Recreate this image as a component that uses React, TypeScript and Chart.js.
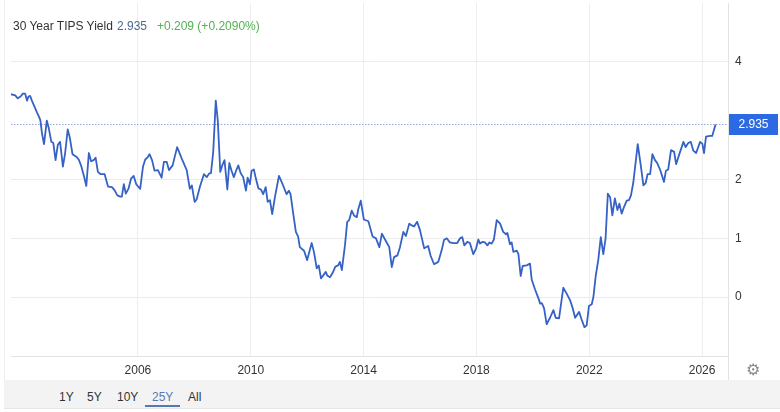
import React, { useEffect, useRef } from "react";
import { Chart, registerables } from "chart.js";
Chart.register(...registerables);

// ---- data (decimal years, real yield %) ----
const years2001to2006 = [2001.50,2001.65,2001.74,2001.84,2001.92,2002.00,2002.07,2002.12,2002.18,2002.24,2002.34,2002.42,2002.49,2002.54,2002.60,2002.67,2002.77,2002.84,2002.93,2003.00,2003.08,2003.16,2003.24,2003.34,2003.42,2003.51,2003.59,2003.68,2003.84,2003.91,2003.99,2004.09,2004.17,2004.26,2004.34,2004.43,2004.50,2004.58,2004.68,2004.82,2004.94,2005.08,2005.17,2005.27,2005.37,2005.43,2005.50,2005.57,2005.67,2005.76,2005.85,2005.94,2006.08,2006.18,2006.26,2006.35,2006.41,2006.50,2006.59,2006.71];
const yields2001to2006 = [3.45,3.43,3.38,3.41,3.46,3.46,3.34,3.41,3.42,3.34,3.23,3.14,3.07,3.01,2.78,2.60,3.00,2.87,2.64,2.62,2.33,2.59,2.64,2.22,2.45,2.85,2.70,2.43,2.38,2.33,2.23,2.05,1.89,2.45,2.31,2.33,2.37,2.13,2.09,2.09,1.88,1.87,1.82,1.73,1.71,1.71,1.92,1.76,1.85,2.02,2.06,1.92,1.84,2.22,2.34,2.38,2.43,2.33,2.15,2.16];

const years2006to2011 = [2006.84,2006.92,2007.02,2007.10,2007.23,2007.39,2007.55,2007.73,2007.84,2007.91,2008.01,2008.08,2008.20,2008.34,2008.44,2008.52,2008.59,2008.67,2008.76,2008.83,2008.92,2008.99,2009.07,2009.17,2009.24,2009.32,2009.40,2009.48,2009.56,2009.64,2009.73,2009.83,2009.89,2009.97,2010.03,2010.11,2010.18,2010.27,2010.36,2010.44,2010.53,2010.60,2010.68,2010.76,2010.86,2011.00,2011.13,2011.27,2011.35,2011.41,2011.53,2011.60];
const yields2006to2011 = [2.03,2.30,2.30,2.16,2.24,2.55,2.36,2.16,1.84,1.90,1.62,1.66,1.88,2.09,2.04,2.10,2.11,2.47,3.34,3.01,2.13,2.24,2.33,1.83,2.28,2.15,2.04,2.15,2.24,2.11,2.04,1.81,2.03,1.92,2.15,2.17,2.02,1.85,1.83,1.75,1.87,1.62,1.65,1.41,1.71,2.06,1.92,1.75,1.81,1.75,1.34,1.11];

const years2011to2016 = [2011.68,2011.74,2011.89,2012.00,2012.16,2012.24,2012.34,2012.41,2012.49,2012.57,2012.66,2012.71,2012.81,2012.90,2013.00,2013.10,2013.16,2013.23,2013.34,2013.42,2013.49,2013.58,2013.66,2013.76,2013.81,2013.90,2014.01,2014.17,2014.32,2014.44,2014.56,2014.65,2014.76,2014.91,2015.00,2015.08,2015.20,2015.29,2015.41,2015.50,2015.62,2015.71,2015.79,2015.90,2016.00,2016.15,2016.29,2016.38,2016.50];
const yields2011to2016 = [1.03,0.85,0.79,0.63,0.92,0.77,0.49,0.54,0.32,0.37,0.43,0.37,0.34,0.41,0.52,0.54,0.60,0.46,0.88,1.28,1.31,1.47,1.39,1.36,1.49,1.64,1.32,1.29,1.03,1.00,0.85,1.08,0.98,0.85,0.51,0.68,0.71,0.85,1.11,1.04,1.25,1.22,1.20,1.28,1.14,0.83,0.87,0.70,0.56];

const years2016to2020 = [2016.65,2016.77,2016.85,2016.95,2017.06,2017.18,2017.32,2017.42,2017.50,2017.57,2017.68,2017.77,2017.89,2017.99,2018.07,2018.13,2018.22,2018.30,2018.39,2018.46,2018.54,2018.62,2018.72,2018.84,2018.95,2019.05,2019.10,2019.19,2019.25,2019.31,2019.43,2019.49,2019.57,2019.64,2019.78,2019.90,2019.96,2020.08,2020.20,2020.26,2020.32,2020.40,2020.49,2020.61,2020.73,2020.81,2020.93];
const yields2016to2020 = [0.60,0.80,0.97,1.00,0.93,0.92,0.92,1.00,1.02,0.88,0.94,0.92,0.73,0.83,0.98,0.91,0.94,0.93,0.88,0.93,0.91,0.98,1.31,1.25,1.11,1.07,1.09,0.90,0.93,0.77,0.79,0.73,0.36,0.53,0.54,0.57,0.30,0.13,-0.02,-0.11,-0.10,-0.19,-0.46,-0.35,-0.22,-0.35,-0.36];

const years2021to2026 = [2021.08,2021.20,2021.32,2021.41,2021.50,2021.64,2021.73,2021.83,2021.91,2021.99,2022.09,2022.15,2022.23,2022.32,2022.41,2022.50,2022.58,2022.66,2022.74,2022.82,2022.91,2023.00,2023.07,2023.15,2023.24,2023.33,2023.41,2023.48,2023.56,2023.72,2023.83,2023.92,2024.00,2024.07,2024.16,2024.24,2024.33,2024.41,2024.51,2024.65,2024.72,2024.80,2024.90,2025.01,2025.08,2025.18,2025.34,2025.42,2025.51,2025.60,2025.69,2025.79,2025.93,2026.01,2026.07,2026.14,2026.28,2026.36,2026.44,2026.48];
const yields2021to2026 = [0.16,0.06,-0.05,-0.18,-0.35,-0.25,-0.38,-0.51,-0.48,-0.15,-0.12,0.01,0.36,0.63,1.02,0.73,1.00,1.76,1.70,1.39,1.68,1.48,1.59,1.42,1.54,1.64,1.65,1.73,1.94,2.60,2.23,1.90,1.94,2.09,2.09,2.43,2.33,2.28,2.17,1.96,2.15,2.17,2.50,2.47,2.26,2.41,2.64,2.55,2.62,2.64,2.49,2.45,2.64,2.61,2.45,2.73,2.74,2.74,2.87,2.935];

const xTickYears = [2006, 2010, 2014, 2018, 2022, 2026];
const xMin = 2001.5;
const xMax = 2026.92;
const yMin = -1;
const yMax = 5;
const yLabelledTicks = [0, 1, 2, 4];
const yGridTicks = [0, 1, 2, 4];

const title = "30 Year TIPS Yield";
const lastYield = 2.935;
const lastYieldText = "2.935";
const changeText = "+0.209 (+0.2090%)";
const rangeButtons = ["1Y", "5Y", "10Y", "25Y", "All"];
const activeRange = "25Y";

const allYears = [...years2001to2006, ...years2006to2011, ...years2011to2016, ...years2016to2020, ...years2021to2026];
const allYields = [...yields2001to2006, ...yields2006to2011, ...yields2011to2016, ...yields2016to2020, ...yields2021to2026];

const FONT = "'Liberation Sans', Arial, Helvetica, sans-serif";

const overlayPlugin = {
  id: "overlayPlugin",
  beforeDatasetsDraw(chart: any) {
    const { ctx, chartArea, scales } = chart;
    const y = Math.round(scales.y.getPixelForValue(lastYield)) + 0.5;
    ctx.save();
    ctx.strokeStyle = "#98a3d6";
    ctx.lineWidth = 1;
    ctx.setLineDash([1.5, 1.5]);
    ctx.beginPath();
    ctx.moveTo(chartArea.left, y);
    ctx.lineTo(chartArea.right, y);
    ctx.stroke();
    ctx.restore();
  },
  afterDraw(chart: any) {
    const { ctx, chartArea, scales } = chart;
    const yc = scales.y.getPixelForValue(lastYield);
    ctx.save();
    ctx.strokeStyle = "#e3e3e3";
    ctx.lineWidth = 1;
    ctx.beginPath();
    ctx.moveTo(chartArea.right + 0.5, chartArea.bottom);
    ctx.lineTo(chartArea.right + 0.5, 380);
    ctx.stroke();
    ctx.strokeStyle = "#eeeeee";
    ctx.beginPath();
    ctx.moveTo(4.5, 0);
    ctx.lineTo(4.5, 380);
    ctx.stroke();
    const bx = chartArea.right + 1;
    const bw = 778 - bx;
    const bh = 21;
    ctx.fillStyle = "#2c6ae3";
    ctx.fillRect(bx, Math.round(yc - bh / 2), bw, bh);
    ctx.fillStyle = "#ffffff";
    ctx.font = `12px ${FONT}`;
    ctx.textAlign = "center";
    ctx.textBaseline = "middle";
    ctx.fillText(lastYieldText, bx + bw / 2, Math.round(yc) + 0.5);
    ctx.restore();
  },
};

function TipsChart() {
  const canvasRef = useRef<HTMLCanvasElement | null>(null);

  useEffect(() => {
    if (!canvasRef.current) return;
    Chart.defaults.font.family = FONT;
    Chart.defaults.font.size = 12;
    Chart.defaults.color = "#333333";
    const chart = new Chart(canvasRef.current, {
      type: "line",
      data: {
        datasets: [
          {
            data: allYears.map((x, i) => ({ x, y: allYields[i] })),
            borderColor: "#3562c4",
            borderWidth: 1.8,
            pointRadius: 0,
            tension: 0,
            fill: false,
            borderJoinStyle: "round",
          },
        ],
      },
      options: {
        animation: false,
        responsive: false,
        maintainAspectRatio: false,
        layout: { padding: { left: 11, top: 3, right: 0, bottom: 0 } },
        plugins: { legend: { display: false }, tooltip: { enabled: false } },
        scales: {
          x: {
            type: "linear",
            min: xMin,
            max: xMax,
            afterBuildTicks: (scale: any) => {
              scale.ticks = xTickYears.map((v) => ({ value: v }));
            },
            afterFit: (scale: any) => {
              scale.height = 56;
              scale.paddingLeft = 0;
              scale.paddingRight = 0;
            },
            ticks: {
              padding: 7,
              color: "#333333",
              font: { size: 12, family: FONT },
              callback: (v: any) => String(v),
              maxRotation: 0,
              autoSkip: false,
            },
            grid: { color: "#eeeeee", drawTicks: false, lineWidth: 1 },
            border: { display: true, color: "#e3e3e3", width: 1 },
          },
          y: {
            type: "linear",
            position: "right",
            min: yMin,
            max: yMax,
            afterFit: (scale: any) => {
              scale.width = 52;
              scale.paddingTop = 0;
              scale.paddingBottom = 0;
            },
            ticks: {
              stepSize: 1,
              padding: 7,
              color: "#333333",
              font: { size: 12, family: FONT },
              callback: (v: any) => (yLabelledTicks.includes(Number(v)) ? String(v) : ""),
            },
            grid: {
              drawTicks: false,
              color: (ctx: any) => (yGridTicks.includes(ctx.tick?.value) ? "#ececec" : "rgba(0,0,0,0)"),
            },
            border: { display: true, color: "#e3e3e3", width: 1 },
          },
        },
      },
      plugins: [overlayPlugin],
    } as any);
    return () => chart.destroy();
  }, []);

  const btnLeft: Record<string, number> = { "1Y": 59, "5Y": 87, "10Y": 117, "25Y": 152, All: 188 };

  return (
    <div style={{ position: "absolute", left: 0, top: 0, width: 780, height: 412, background: "#fff", fontFamily: FONT, overflow: "hidden" }}>
      <canvas ref={canvasRef} width={780} height={412} style={{ position: "absolute", left: 0, top: 0, width: 780, height: 412 }} />
      <div style={{ position: "absolute", left: 13, top: 19, fontSize: 12, lineHeight: "14px", color: "#333", whiteSpace: "nowrap" }}>{title}</div>
      <div style={{ position: "absolute", left: 117, top: 19, fontSize: 12, lineHeight: "14px", color: "#4f6a8f", whiteSpace: "nowrap" }}>{lastYieldText}</div>
      <div style={{ position: "absolute", left: 157, top: 19, fontSize: 12, lineHeight: "14px", color: "#52b152", whiteSpace: "nowrap" }}>{changeText}</div>
      <div style={{ position: "absolute", left: 4, top: 380, width: 776, height: 28, background: "#f3f3f3", borderBottom: "1px solid #e6e6e6" }} />
      {rangeButtons.map((b) => (
        <div key={b} style={{ position: "absolute", left: btnLeft[b], top: 390, fontSize: 12, lineHeight: "14px", color: b === activeRange ? "#5a78b0" : "#333", whiteSpace: "nowrap" }}>{b}</div>
      ))}
      <div style={{ position: "absolute", left: 145, top: 405, width: 35, height: 2, background: "#5a78b0" }} />
      <div style={{ position: "absolute", left: 746, top: 361, fontSize: 16, lineHeight: "18px", color: "#8a8a8a", fontFamily: "'DejaVu Sans', sans-serif" }}>⚙</div>
    </div>
  );
}

export default function App() {
  return <TipsChart />;
}
